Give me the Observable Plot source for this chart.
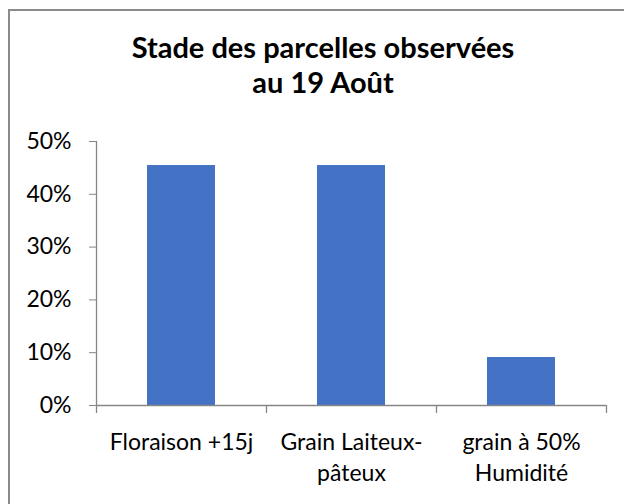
<!DOCTYPE html>
<html><head><meta charset="utf-8">
<script src="https://cdn.jsdelivr.net/npm/d3@7"></script>
<script src="https://cdn.jsdelivr.net/npm/@observablehq/plot@0.6"></script>
<style>
body{margin:0;background:#fff;overflow:hidden;}
#wrap{position:relative;width:624px;height:504px;overflow:hidden;font-family:Lato,sans-serif;background:#fff;}
#frame{position:absolute;left:8px;top:9px;width:700px;height:600px;border-left:2px solid #8a8a8a;border-top:2px solid #8a8a8a;}
#title{position:absolute;left:0;top:29px;width:646px;text-align:center;font-weight:bold;font-size:29px;line-height:35px;color:#000;}
#chart{position:absolute;left:0;top:120px;}
#chart svg text{fill:#000;}
</style></head><body>
<div id="wrap"><div id="frame"></div><div id="title">Stade des parcelles observées<br>au 19 Août</div><div id="chart"></div></div>
<script>
const categories = ["Floraison +15j", "Grain Laiteux-\npâteux", "grain à 50%\nHumidité"];
const values = [0.4545, 0.4545, 0.0909];
const yTicks = [0, 0.1, 0.2, 0.3, 0.4, 0.5];

const data = categories.map((c, i) => ({category: c, value: values[i]}));
const W = 624, H = 384, mL = 96, mR = 18;
const step = (W - mL - mR) / categories.length;
const axisGray = "#868686";

const plot = Plot.plot({
  width: W, height: H,
  marginLeft: mL, marginRight: mR, marginTop: 21, marginBottom: 99,
  style: {fontFamily: "Lato, sans-serif", fontSize: "23px", color: axisGray, background: "transparent", overflow: "visible"},
  x: {domain: categories, paddingInner: 0.6, paddingOuter: 0.3, align: 0.5, axis: null},
  y: {domain: [0, 0.5], ticks: yTicks, tickFormat: d3.format(".0%"), tickSize: 7, tickPadding: 18, label: null},
  marks: [
    Plot.barY(data, {x: "category", y: "value", fill: "#4472C4"}),
    Plot.ruleY([0], {stroke: axisGray, strokeWidth: 1.3}),
    Plot.ruleX([categories[0]], {y1: 0, y2: 0.5, dx: -step / 2, stroke: axisGray, strokeWidth: 1.3}),
    Plot.ruleX(categories, {y1: 0, y2: 0, insetBottom: -8, dx: -step / 2, stroke: axisGray, strokeWidth: 1.3}),
    Plot.ruleX([categories[categories.length - 1]], {y1: 0, y2: 0, insetBottom: -8, dx: step / 2, stroke: axisGray, strokeWidth: 1.3}),
    Plot.text(data, {x: "category", text: "category", frameAnchor: "bottom", lineAnchor: "top", dy: 22, lineHeight: 1.35, fill: "#000", fontSize: 23})
  ]
});
document.getElementById("chart").appendChild(plot);
</script>
</body></html>
